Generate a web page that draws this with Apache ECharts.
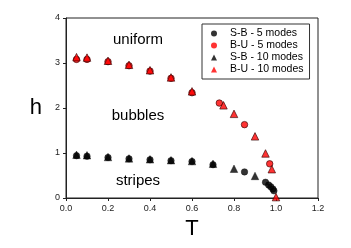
<!DOCTYPE html>
<html><head><meta charset="utf-8">
<script src="https://cdn.jsdelivr.net/npm/echarts@6/dist/echarts.min.js"></script>
<style>html,body{margin:0;padding:0;background:#fff}#c{width:351px;height:248px}</style>
</head><body><div id="c"></div>
<script>
// S-B, 5 modes (black circles)
var sb5T = [0.05, 0.1, 0.2, 0.3, 0.4, 0.5, 0.6, 0.7, 0.85, 0.95, 0.965, 0.975, 0.985, 0.99];
var sb5H = [0.94, 0.93, 0.90, 0.87, 0.85, 0.83, 0.81, 0.74, 0.58, 0.35, 0.29, 0.25, 0.20, 0.16];
// B-U, 5 modes (red circles)
var bu5T = [0.05, 0.1, 0.2, 0.3, 0.4, 0.5, 0.6, 0.73, 0.85, 0.97];
var bu5H = [3.08, 3.08, 3.03, 2.94, 2.82, 2.66, 2.34, 2.11, 1.63, 0.76];
// S-B, 10 modes (black triangles)
var sb10T = [0.05, 0.1, 0.2, 0.3, 0.4, 0.5, 0.6, 0.7, 0.8, 0.9];
var sb10H = [0.96, 0.95, 0.91, 0.88, 0.86, 0.84, 0.82, 0.76, 0.65, 0.49];
// B-U, 10 modes (red triangles)
var bu10T = [0.05, 0.1, 0.2, 0.3, 0.4, 0.5, 0.6, 0.75, 0.8, 0.9, 0.95, 0.98, 1.0];
var bu10H = [3.13, 3.12, 3.05, 2.96, 2.84, 2.68, 2.37, 2.06, 1.87, 1.37, 0.99, 0.64, 0.02];
var seriesNames = ['S-B - 5 modes', 'B-U - 5 modes', 'S-B - 10 modes', 'B-U - 10 modes'];
var xTicks = ['0.0', '0.2', '0.4', '0.6', '0.8', '1.0', '1.2'];
var yTicks = ['0', '1', '2', '3', '4'];
var regionLabels = ['uniform', 'bubbles', 'stripes'];

function pairs(t, h) { return t.map(function (v, i) { return [v, h[i]]; }); }

var chart = echarts.init(document.getElementById('c'), null, {renderer: 'canvas'});
var font = 'Liberation Sans, Arial, sans-serif';
var red = '#ff0000';
chart.setOption({
  animation: false,
  textStyle: {fontFamily: font},
  grid: {left: 66, right: 33, top: 18, bottom: 50, show: true, borderColor: '#222', borderWidth: 1},
  xAxis: {
    type: 'value', min: 0, max: 1.2, interval: 0.2,
    name: 'T', nameLocation: 'middle', nameGap: 18,
    nameTextStyle: {fontSize: 22, color: '#000', fontFamily: font},
    axisLine: {lineStyle: {color: '#222'}},
    axisTick: {show: true, length: 3, lineStyle: {color: '#222'}},
    axisLabel: {fontSize: 9, color: '#222', margin: 6, fontFamily: font,
      formatter: function (v) { var i = Math.round(v / 0.2); return xTicks[i]; }},
    splitLine: {show: false}
  },
  yAxis: {
    type: 'value', min: 0, max: 4, interval: 1,
    name: 'h', nameLocation: 'middle', nameGap: 24, nameRotate: 0,
    nameTextStyle: {fontSize: 22, color: '#000', fontFamily: font},
    axisLine: {show: true, lineStyle: {color: '#222'}},
    axisTick: {show: true, length: 3, lineStyle: {color: '#222'}},
    axisLabel: {fontSize: 9, color: '#222', margin: 6, fontFamily: font,
      formatter: function (v) { return yTicks[Math.round(v)]; }},
    splitLine: {show: false}
  },
  legend: {
    show: true, orient: 'vertical', left: 202, top: 24,
    data: seriesNames.map(function (n, i) { return {name: n, icon: i < 2 ? 'circle' : 'triangle'}; }),
    itemWidth: 6, itemHeight: 6, itemGap: 1,
    itemStyle: {borderWidth: 0},
    padding: [4, 6, 4, 9], borderColor: '#333', borderWidth: 1, backgroundColor: '#fff',
    textStyle: {fontSize: 10.5, color: '#000', fontFamily: font, padding: [0, 0, 0, 8], lineHeight: 11}
  },
  graphic: [
    {type: 'text', style: {text: regionLabels[0], x: 138, y: 40, align: 'center', verticalAlign: 'middle', font: '15px ' + font, fill: '#000'}},
    {type: 'text', style: {text: regionLabels[1], x: 138, y: 116, align: 'center', verticalAlign: 'middle', font: '15px ' + font, fill: '#000'}},
    {type: 'text', style: {text: regionLabels[2], x: 138, y: 181, align: 'center', verticalAlign: 'middle', font: '15px ' + font, fill: '#000'}}
  ],
  series: [
    {name: seriesNames[0], type: 'scatter', data: pairs(sb5T, sb5H), symbol: 'circle', symbolSize: 6.5,
      itemStyle: {color: '#000', borderColor: '#000', borderWidth: 0.5}},
    {name: seriesNames[1], type: 'scatter', data: pairs(bu5T, bu5H), symbol: 'circle', symbolSize: 6.5,
      itemStyle: {color: red, borderColor: '#300', borderWidth: 0.8}},
    {name: seriesNames[2], type: 'scatter', data: pairs(sb10T, sb10H), symbol: 'triangle', symbolSize: 7.5,
      itemStyle: {color: '#000', borderColor: '#000', borderWidth: 0.5}},
    {name: seriesNames[3], type: 'scatter', data: pairs(bu10T, bu10H), symbol: 'triangle', symbolSize: 7.5,
      itemStyle: {color: red, borderColor: '#300', borderWidth: 0.8}}
  ]
});
</script></body></html>
